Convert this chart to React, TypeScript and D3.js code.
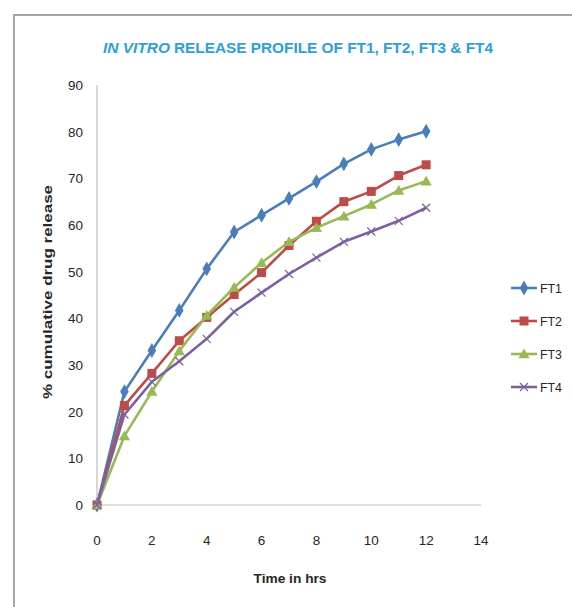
import * as d3 from 'd3';

const hours = [0, 1, 2, 3, 4, 5, 6, 7, 8, 9, 10, 11, 12];
const ft1 = [0, 24.3, 33.1, 41.7, 50.6, 58.5, 62.1, 65.7, 69.3, 73.1, 76.2, 78.3, 80.1];
const ft2 = [0, 21.3, 28.2, 35.2, 40.2, 45.1, 49.8, 55.6, 60.8, 65.0, 67.2, 70.6, 72.9];
const ft3 = [0, 14.8, 24.3, 33.0, 40.6, 46.6, 51.9, 56.4, 59.4, 61.9, 64.4, 67.4, 69.4];
const ft4 = [0, 19.4, 26.4, 30.8, 35.6, 41.4, 45.5, 49.5, 53.0, 56.4, 58.6, 60.9, 63.7];
const seriesNames = ['FT1', 'FT2', 'FT3', 'FT4'];
const seriesValues = [ft1, ft2, ft3, ft4];
const colors = ['#4a7ebb', '#be4b48', '#98b954', '#7d60a0'];
const markers = ['diamond', 'square', 'triangle', 'cross'];
const xTicks = [0, 2, 4, 6, 8, 10, 12, 14];
const yTicks = [0, 10, 20, 30, 40, 50, 60, 70, 80, 90];

const W = 572;
const H = 607;
const margin = { left: 97, top: 85, right: 91, bottom: 102 };
const font = "'Liberation Sans', Arial, sans-serif";

function Marker({ type, x, y, color }: { type: string; x: number; y: number; color: string }) {
  if (type === 'diamond') {
    const s = d3.symbol(d3.symbolDiamond, 64)();
    return <path d={s || ''} transform={`translate(${x},${y})`} fill={color} />;
  }
  if (type === 'square') {
    return <rect x={x - 4.5} y={y - 4.5} width={9} height={9} fill={color} />;
  }
  if (type === 'triangle') {
    const s = d3.symbol(d3.symbolTriangle, 55)();
    return <path d={s || ''} transform={`translate(${x},${y + 1})`} fill={color} />;
  }
  return (
    <path
      d={`M${x - 4},${y - 4}L${x + 4},${y + 4}M${x - 4},${y + 4}L${x + 4},${y - 4}`}
      stroke={color}
      strokeWidth={1.2}
      fill="none"
    />
  );
}

export default function App() {
  const x = d3.scaleLinear().domain([0, 14]).range([margin.left, W - margin.right]);
  const y = d3.scaleLinear().domain([0, 90]).range([H - margin.bottom, margin.top]);
  const line = d3
    .line<number>()
    .x((_, i) => x(hours[i]))
    .y((d) => y(d));

  return (
    <svg
      width={W}
      height={H}
      style={{ position: 'absolute', left: 0, top: 0, background: '#fff' }}
      fontFamily={font}
    >
      {/* chart frame */}
      <path d={`M14,${H}L14,15L${W},15`} fill="none" stroke="#a6a6a6" strokeWidth={2} />

      <text x={103} y={53} fontSize={15} fontWeight="bold" fontStyle="italic" fill="#2d9fd9"
        textLength={67} lengthAdjust="spacingAndGlyphs">
        IN VITRO
      </text>
      <text x={174} y={53} fontSize={15} fontWeight="bold" fill="#2d9fd9"
        textLength={319} lengthAdjust="spacingAndGlyphs">
        RELEASE PROFILE OF FT1, FT2, FT3 &amp; FT4
      </text>

      {/* axes */}
      <line x1={x(0)} x2={x(14)} y1={y(0)} y2={y(0)} stroke="#bdbdbd" strokeWidth={1.2} />
      <line x1={x(0)} x2={x(0)} y1={y(0)} y2={y(90)} stroke="#bdbdbd" strokeWidth={1.2} />
      {yTicks.map((t) => (
        <text key={`y${t}`} x={x(0) - 14} y={y(t) + 5} textAnchor="end" fontSize={13.5} fill="#262626"
          textLength={t === 0 ? 7.5 : 15} lengthAdjust="spacingAndGlyphs">
          {t}
        </text>
      ))}
      {xTicks.map((t) => (
        <text key={`x${t}`} x={x(t)} y={y(0) + 40} textAnchor="middle" fontSize={13.5} fill="#262626"
          textLength={t < 10 ? 7.5 : 15} lengthAdjust="spacingAndGlyphs">
          {t}
        </text>
      ))}

      <text
        transform={`translate(52,${292}) rotate(-90)`}
        textAnchor="middle"
        fontSize={13.5}
        fontWeight="bold"
        fill="#262626"
        textLength={214}
        lengthAdjust="spacingAndGlyphs"
      >
        % cumulative drug release
      </text>
      <text x={290} y={583} textAnchor="middle" fontSize={13.5} fontWeight="bold" fill="#262626"
        textLength={73} lengthAdjust="spacingAndGlyphs">
        Time in hrs
      </text>

      {/* series */}
      {seriesValues.map((vals, si) => (
        <g key={seriesNames[si]}>
          <path d={line(vals) || ''} fill="none" stroke={colors[si]} strokeWidth={2.6} strokeLinejoin="round" />
          {vals.map((v, i) => (
            <Marker key={i} type={markers[si]} x={x(hours[i])} y={y(v)} color={colors[si]} />
          ))}
        </g>
      ))}

      {/* legend */}
      {seriesNames.map((name, i) => {
        const ly = 288 + i * 33;
        return (
          <g key={`lg${name}`}>
            <line x1={511} x2={537} y1={ly} y2={ly} stroke={colors[i]} strokeWidth={2.6} />
            <Marker type={markers[i]} x={524} y={ly} color={colors[i]} />
            <text x={540} y={ly + 5} fontSize={13.5} fill="#262626" textLength={22} lengthAdjust="spacingAndGlyphs">
              {name}
            </text>
          </g>
        );
      })}
    </svg>
  );
}
